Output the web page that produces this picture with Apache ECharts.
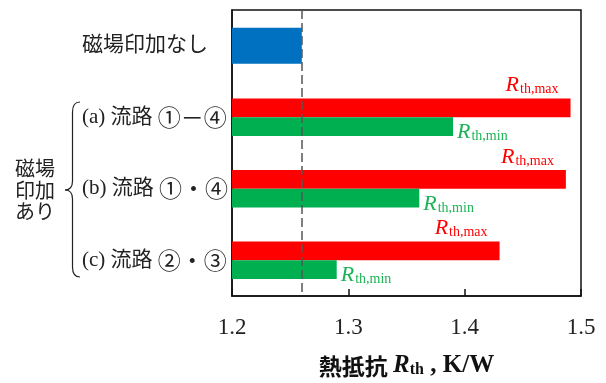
<!DOCTYPE html>
<html>
<head>
<meta charset="utf-8">
<script src="https://cdn.jsdelivr.net/npm/echarts@6/dist/echarts.min.js"></script>
<style>
  html, body { margin: 0; padding: 0; background: #fff; }
  #chart { width: 606px; height: 383px; }
</style>
</head>
<body>
<div id="chart"></div>
<script>
// Row labels, top to bottom
const categories = ['磁場印加なし', '(a) 流路 ①－④', '(b) 流路 ①・④', '(c) 流路 ②・③'];
// Thermal resistance without a magnetic field (K/W)
const noFieldValues = [1.26, null, null, null];
// Maximum / minimum thermal resistance with a magnetic field (K/W)
const maxValues = [null, 1.491, 1.487, 1.43];
const minValues = [null, 1.39, 1.361, 1.29];
// Value axis ticks
const xTicks = [1.2, 1.3, 1.4, 1.5];
const referenceLine = 1.26;

const serif = "'Liberation Serif', 'DejaVu Serif', serif";
const cjk = "'Noto Sans CJK JP', sans-serif";
const mixed = "'Liberation Serif', 'Noto Sans CJK JP', serif";

function rLabelRich(color) {
  return {
    R: { fontFamily: serif, fontStyle: 'italic', fontSize: 22, color: color, verticalAlign: 'bottom', lineHeight: 22 },
    s: { fontFamily: serif, fontSize: 14, color: color, verticalAlign: 'bottom', lineHeight: 14, padding: [0, 0, 0, 1] }
  };
}

// Curly brace grouping the three "with field" rows
const braceStyle = { stroke: '#222', fill: null, lineWidth: 1.2 };
const braceParts = [
  { type: 'bezierCurve', shape: { x1: 80, y1: 102, cpx1: 72.5, cpy1: 102, x2: 72.5, y2: 112 } },
  { type: 'line', shape: { x1: 72.5, y1: 112, x2: 72.5, y2: 181 } },
  { type: 'bezierCurve', shape: { x1: 72.5, y1: 181, cpx1: 72.5, cpy1: 190, x2: 65, y2: 190 } },
  { type: 'bezierCurve', shape: { x1: 65, y1: 190, cpx1: 72.5, cpy1: 190, x2: 72.5, y2: 199 } },
  { type: 'line', shape: { x1: 72.5, y1: 199, x2: 72.5, y2: 267 } },
  { type: 'bezierCurve', shape: { x1: 72.5, y1: 267, cpx1: 72.5, cpy1: 277, x2: 80, y2: 277 } }
].map(p => Object.assign(p, { style: braceStyle, silent: true }));

const chart = echarts.init(document.getElementById('chart'), null, { renderer: 'canvas' });

chart.setOption({
  animation: false,
  grid: {
    left: 232, right: 25, top: 10, bottom: 86,
    show: true, borderColor: '#111', borderWidth: 1.5, backgroundColor: 'transparent'
  },
  xAxis: {
    type: 'value',
    min: xTicks[0],
    max: xTicks[xTicks.length - 1],
    interval: 0.1,
    axisLine: { show: true, lineStyle: { color: '#111', width: 1.5 } },
    axisTick: { show: true, inside: true, length: 7, lineStyle: { color: '#111', width: 1.5 } },
    splitLine: { show: false },
    axisLabel: {
      margin: 20, fontFamily: serif, fontSize: 23, color: '#222',
      formatter: v => v.toFixed(1)
    },
    name: '{c|熱抵抗 }{R|R}{s|th}{t| , K/W}',
    nameLocation: 'middle',
    nameGap: 56,
    nameTextStyle: {
      rich: {
        c: { fontFamily: cjk, fontWeight: 'bold', fontSize: 23, color: '#111', verticalAlign: 'bottom', lineHeight: 26 },
        R: { fontFamily: serif, fontWeight: 'bold', fontStyle: 'italic', fontSize: 25, color: '#111', verticalAlign: 'bottom', lineHeight: 26 },
        s: { fontFamily: serif, fontWeight: 'bold', fontSize: 16, color: '#111', verticalAlign: 'bottom', lineHeight: 17 },
        t: { fontFamily: serif, fontWeight: 'bold', fontSize: 25, color: '#111', verticalAlign: 'bottom', lineHeight: 26 }
      }
    }
  },
  yAxis: [{
    type: 'category',
    data: categories,
    inverse: true,
    axisLine: { show: true, lineStyle: { color: '#111', width: 1.5 } },
    axisTick: { show: false },
    axisLabel: {
      align: 'left', margin: 150,
      fontFamily: mixed, fontSize: 21, color: '#222',
      // circled route numbers are set a little larger
      formatter: v => v.replace(/([①-⑳][－・]?[①-⑳]?)/g, '{n|$1}'),
      rich: {
        n: { fontFamily: cjk, fontSize: 23, color: '#222' }
      }
    }
  }, {
    type: 'category',
    data: categories,
    inverse: true,
    show: false
  }],
  graphic: braceParts.concat([{
    type: 'text',
    left: 15,
    top: 158,
    style: {
      text: '磁場\n印加\nあり',
      font: "20px 'Noto Sans CJK JP'",
      lineHeight: 21.5,
      fill: '#222'
    }
  }]),
  series: [{
    name: 'noField',
    type: 'bar',
    yAxisIndex: 1,
    data: noFieldValues,
    barWidth: 36,
    itemStyle: { color: '#0070C0' },
    markLine: {
      silent: true,
      symbol: 'none',
      label: { show: false },
      lineStyle: { color: '#555', type: [9, 4], width: 1.5 },
      data: [{ xAxis: referenceLine }]
    }
  }, {
    name: 'max',
    type: 'bar',
    data: maxValues,
    barWidth: 18.7,
    barGap: '0%',
    itemStyle: { color: '#FF0000' },
    label: {
      show: true,
      position: ['100%', 0],
      align: 'right',
      verticalAlign: 'bottom',
      offset: [-12, -2],
      formatter: '{R|R}{s|th,max}',
      rich: rLabelRich('#FF0000')
    }
  }, {
    name: 'min',
    type: 'bar',
    data: minValues,
    barWidth: 18.7,
    itemStyle: { color: '#00B050' },
    label: {
      show: true,
      position: 'right',
      distance: 4,
      offset: [0, 6],
      formatter: '{R|R}{s|th,min}',
      rich: rLabelRich('#1DB356')
    }
  }]
});
</script>
</body>
</html>
